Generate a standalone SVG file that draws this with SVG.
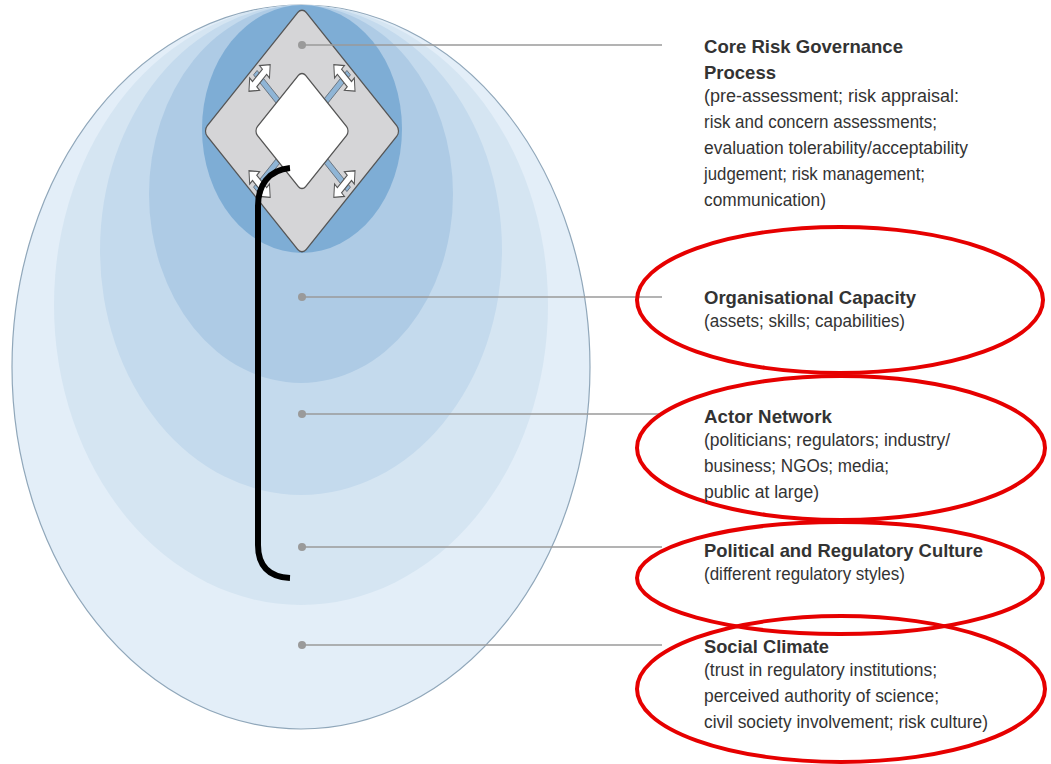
<svg xmlns="http://www.w3.org/2000/svg" width="1051" height="764" viewBox="0 0 1051 764">
<defs>
<style>
.t{font-family:"Liberation Sans",Arial,sans-serif;font-weight:bold;font-size:19px;fill:#333}
.b{font-family:"Liberation Sans",Arial,sans-serif;font-size:17.5px;fill:#333}
.lead{stroke:#9a9a9a;stroke-width:1.6;fill:none}
.dot{fill:#9a9a9a}
.hl{fill:none;stroke:#e60000;stroke-width:4}
.arr{fill:#fff;stroke:#555;stroke-width:1}
.rail{fill:#8fb5d6;stroke:#6a7480;stroke-width:0.8}
</style>
<path id="dbl" d="M0,-15 L7,-7 L3,-7 L3,7 L7,7 L0,15 L-7,7 L-3,7 L-3,-7 L-7,-7 Z"/>
</defs>
<rect width="1051" height="764" fill="#fff"/>
<g id="layers">
<ellipse id="social-climate" cx="301" cy="367" rx="289" ry="362" fill="#e3eef8" stroke="#90a7ba" stroke-width="1.2"/>
<ellipse id="political-culture" cx="301" cy="305" rx="247" ry="300" fill="#d5e5f2"/>
<ellipse id="actor-network" cx="301" cy="250" rx="201" ry="245" fill="#c4daed"/>
<ellipse id="org-capacity" cx="301" cy="194" rx="152" ry="189" fill="#aecbe5"/>
<ellipse id="core-zone" cx="302" cy="129" rx="100" ry="124" fill="#7eadd5"/>
</g>
<g id="core-process" transform="translate(302,131) scale(1,1.25) rotate(45)">
<rect x="-70" y="-70" width="140" height="140" rx="6" fill="#d5d5d7" stroke="#555" stroke-width="1.2"/>
<rect class="rail" x="-66" y="-2.5" width="34" height="5"/>
<rect class="rail" x="32" y="-2.5" width="34" height="5"/>
<rect class="rail" x="-2.5" y="-66" width="5" height="34"/>
<rect class="rail" x="-2.5" y="32" width="5" height="34"/>
<rect x="-34" y="-34" width="68" height="68" rx="5" fill="#fff" stroke="#555" stroke-width="1.2"/>
<use href="#dbl" class="arr" transform="translate(-60,0)"/>
<use href="#dbl" class="arr" transform="translate(60,0)"/>
<use href="#dbl" class="arr" transform="translate(0,-60) rotate(90)"/>
<use href="#dbl" class="arr" transform="translate(0,60) rotate(90)"/>
</g>
<g id="connectors">
<line class="lead" x1="302" y1="45" x2="662" y2="45"/>
<line class="lead" x1="302" y1="297" x2="662" y2="297"/>
<line class="lead" x1="302" y1="414" x2="662" y2="414"/>
<line class="lead" x1="302" y1="547" x2="662" y2="547"/>
<line class="lead" x1="302" y1="645" x2="662" y2="645"/>
<circle class="dot" cx="302" cy="45" r="4"/>
<circle class="dot" cx="302" cy="297" r="4"/>
<circle class="dot" cx="302" cy="414" r="4"/>
<circle class="dot" cx="302" cy="547" r="4"/>
<circle class="dot" cx="302" cy="645" r="4"/>
<path id="bracket" d="M290,168 C268,170 258,186 258,206 L258,545 C258,565 268,577 290,578" fill="none" stroke="#000" stroke-width="6"/>
</g>
<g id="label-core">
<text class="t" x="704" y="53" textLength="199" lengthAdjust="spacingAndGlyphs">Core Risk Governance</text>
<text class="t" x="704" y="79" textLength="72" lengthAdjust="spacingAndGlyphs">Process</text>
<text class="b" x="704" y="102" textLength="255" lengthAdjust="spacingAndGlyphs">(pre-assessment; risk appraisal:</text>
<text class="b" x="704" y="128" textLength="233" lengthAdjust="spacingAndGlyphs">risk and concern assessments;</text>
<text class="b" x="704" y="154" textLength="264" lengthAdjust="spacingAndGlyphs">evaluation tolerability/acceptability</text>
<text class="b" x="704" y="180" textLength="221" lengthAdjust="spacingAndGlyphs">judgement; risk management;</text>
<text class="b" x="704" y="206" textLength="122" lengthAdjust="spacingAndGlyphs">communication)</text>
</g>
<g id="label-org">
<ellipse class="hl" cx="840" cy="300" rx="203" ry="73"/>
<text class="t" x="704" y="304" textLength="212" lengthAdjust="spacingAndGlyphs">Organisational Capacity</text>
<text class="b" x="704" y="327" textLength="201" lengthAdjust="spacingAndGlyphs">(assets; skills; capabilities)</text>
</g>
<g id="label-actor">
<ellipse class="hl" cx="841" cy="448" rx="204" ry="72"/>
<text class="t" x="704" y="423" textLength="128" lengthAdjust="spacingAndGlyphs">Actor Network</text>
<text class="b" x="704" y="446" textLength="246" lengthAdjust="spacingAndGlyphs">(politicians; regulators; industry/</text>
<text class="b" x="704" y="472" textLength="185" lengthAdjust="spacingAndGlyphs">business; NGOs; media;</text>
<text class="b" x="704" y="498" textLength="115" lengthAdjust="spacingAndGlyphs">public at large)</text>
</g>
<g id="label-political">
<ellipse class="hl" cx="840" cy="578" rx="203" ry="56"/>
<text class="t" x="704" y="557" textLength="279" lengthAdjust="spacingAndGlyphs">Political and Regulatory Culture</text>
<text class="b" x="704" y="580" textLength="201" lengthAdjust="spacingAndGlyphs">(different regulatory styles)</text>
</g>
<g id="label-social">
<ellipse class="hl" cx="841" cy="689" rx="204" ry="73"/>
<text class="t" x="704" y="653" textLength="125" lengthAdjust="spacingAndGlyphs">Social Climate</text>
<text class="b" x="704" y="676" textLength="233" lengthAdjust="spacingAndGlyphs">(trust in regulatory institutions;</text>
<text class="b" x="704" y="702" textLength="235" lengthAdjust="spacingAndGlyphs">perceived authority of science;</text>
<text class="b" x="704" y="728" textLength="284" lengthAdjust="spacingAndGlyphs">civil society involvement; risk culture)</text>
</g>
</svg>
